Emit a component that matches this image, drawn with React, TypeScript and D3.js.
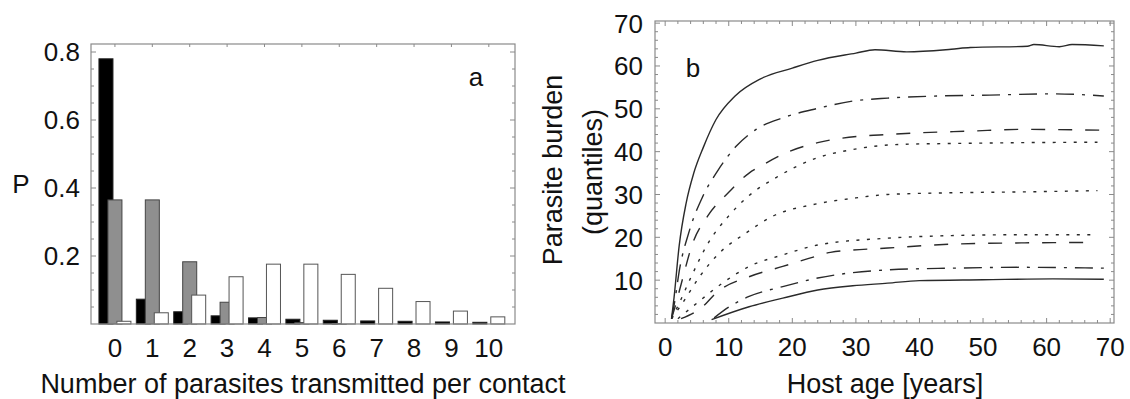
import React from 'react';
import * as d3 from 'd3';

// Panel a: probability of transmitting k parasites per contact
const categories = [0, 1, 2, 3, 4, 5, 6, 7, 8, 9, 10];
const pBlack = [0.78, 0.073, 0.036, 0.024, 0.018, 0.014, 0.011, 0.009, 0.008, 0.006, 0.005];
const pGray = [0.365, 0.365, 0.183, 0.064, 0.019, 0.004, 0.001, 0, 0, 0, 0];
const pWhite = [0.008, 0.033, 0.085, 0.139, 0.176, 0.176, 0.146, 0.105, 0.066, 0.038, 0.021];
const yTicksA = [0.2, 0.4, 0.6, 0.8];

// Panel b: parasite burden quantiles by host age
const q1Age = [1, 1.4, 2.2, 3.3, 4.5, 6, 8, 11, 15, 20, 24, 30, 33, 38, 45, 48, 57, 58, 62, 64, 69];
const q1Val = [1, 6, 18, 28, 35, 41, 47.5, 53, 57, 59.5, 61.3, 63, 63.8, 63.3, 63.9, 64.3, 64.6, 65, 64.5, 65, 64.7];
const q2Age = [1, 1.5, 2.2, 3.8, 5.9, 8.2, 11.2, 14.3, 18.5, 24, 29.5, 35, 43, 51, 61, 69];
const q2Val = [1, 5, 12, 21.5, 29.5, 35.4, 41.3, 45.2, 47.9, 50.1, 51.8, 52.5, 53, 53.2, 53.5, 53];
const q3Age = [1, 1.6, 2.5, 4.3, 6.7, 10, 13.2, 15, 19.6, 24, 30.6, 35, 40, 48, 56, 69];
const q3Val = [1, 4, 9, 18.5, 25, 30.5, 35, 36.6, 40.1, 42.1, 43.6, 44, 44.4, 44.8, 45.2, 45];
const q4Age = [1, 2.2, 4, 6.9, 10, 13, 17.5, 23.8, 29.5, 37, 45, 56, 68];
const q4Val = [1, 4.6, 10.5, 19, 25, 29.5, 34, 38.5, 40.5, 41.7, 41.9, 42.1, 42.2];
const q5Age = [1, 2.7, 5.4, 8.5, 12.7, 16.9, 23.8, 30, 35, 45, 56, 68];
const q5Val = [1, 4.6, 10.8, 16.3, 21, 24.9, 27.8, 29.2, 30, 30.4, 30.6, 30.9];
const q6Age = [2, 4.3, 9, 13.2, 18.5, 24, 35, 45, 56, 68];
const q6Val = [1, 3.8, 9.3, 13.2, 15.9, 18.2, 19.8, 20.4, 20.6, 20.6];
const q7Age = [2.5, 5.9, 8, 13.2, 18.5, 23.8, 26, 35, 45, 56, 67.4];
const q7Val = [1, 3.8, 7, 10.8, 13.2, 15.6, 16.5, 17.5, 18.4, 18.7, 18.8];
const q8Age = [7.7, 10.1, 13.2, 18.5, 24, 35, 45, 56, 69];
const q8Val = [1.2, 3.8, 6.2, 8.5, 10.5, 12.4, 12.8, 13, 12.8];
const q9Age = [7.3, 13.2, 18.5, 24, 29.5, 35, 40, 50, 61, 69];
const q9Val = [0.8, 3.8, 5.8, 7.7, 8.7, 9.3, 9.9, 10.1, 10.3, 10.2];
const xTicksB = [0, 10, 20, 30, 40, 50, 60, 70];
const yTicksB = [10, 20, 30, 40, 50, 60, 70];

const FONT = "'Liberation Sans', Arial, sans-serif";
const FRAME = '#8a8a8a';
const INK = '#2a2a2a';
const TICK_FS = 26;

const DASH_DOT = '18,8,3,8';
const DASHED = '14,13';
const DOTTED = '3,7.5';

export default function App() {
  // ---- panel a geometry ----
  const aL = 91, aR = 515, aT = 44, aB = 324;
  const xa = d3.scaleLinear().domain([-0.64, 10.7]).range([aL, aR]);
  const ya = d3.scaleLinear().domain([0, 0.8]).range([aB, 52]);
  const barW = xa(0.375) - xa(0);
  const off = 0.24;

  const bars = (vals: number[], dx: number, fill: string, stroke: string) =>
    categories.map((c, i) => {
      const v = vals[i];
      if (v <= 0) return null;
      const x = xa(c + dx) - barW / 2;
      const y = ya(v);
      return (
        <rect key={`${fill}-${c}`} x={x} y={y} width={barW} height={Math.max(aB - y, 0.5)}
          fill={fill} stroke={stroke} strokeWidth={1} />
      );
    });

  const minorA = d3.range(0.05, 0.81, 0.05);

  // ---- panel b geometry ----
  const bL = 655, bR = 1114, bT = 21, bB = 323;
  const xb = d3.scaleLinear().domain([-1.6, 70.6]).range([bL, bR]);
  const yb = d3.scaleLinear().domain([0, 70.5]).range([bB, bT]);
  const line = d3.line<[number, number]>()
    .x(d => xb(d[0]))
    .y(d => yb(d[1]))
    .curve(d3.curveMonotoneX);
  const series: { age: number[]; val: number[]; dash?: string }[] = [
    { age: q1Age, val: q1Val },
    { age: q2Age, val: q2Val, dash: DASH_DOT },
    { age: q3Age, val: q3Val, dash: DASHED },
    { age: q4Age, val: q4Val, dash: DOTTED },
    { age: q5Age, val: q5Val, dash: DOTTED },
    { age: q6Age, val: q6Val, dash: DOTTED },
    { age: q7Age, val: q7Val, dash: DASHED },
    { age: q8Age, val: q8Val, dash: DASH_DOT },
    { age: q9Age, val: q9Val },
  ];
  const minorXB = d3.range(0, 71, 2);
  const minorYB = d3.range(2, 71, 2);

  return (
    <svg width={1130} height={399} style={{ position: 'absolute', left: 0, top: 0, background: '#fff' }}
      fontFamily={FONT}>
      <rect x={0} y={0} width={1130} height={399} fill="#fff" />

      {/* ---------- panel a ---------- */}
      <g>
        {bars(pBlack, -off, '#000', '#222')}
        {bars(pGray, 0, '#8f8f8f', '#444')}
        {bars(pWhite, off, '#fff', '#555')}
        <rect x={aL} y={aT} width={aR - aL} height={aB - aT} fill="none" stroke={FRAME} strokeWidth={1.2} />
        {minorA.map(v => {
          const major = Math.abs(v * 5 - Math.round(v * 5)) < 1e-6;
          const len = major ? 5 : 3;
          return (
            <g key={`ta${v}`} stroke={FRAME} strokeWidth={1}>
              <line x1={aL} x2={aL + len} y1={ya(v)} y2={ya(v)} />
              <line x1={aR} x2={aR - len} y1={ya(v)} y2={ya(v)} />
            </g>
          );
        })}
        {categories.map(c => (
          <line key={`tt${c}`} x1={xa(c)} x2={xa(c)} y1={aT} y2={aT + 3} stroke={FRAME} strokeWidth={1} />
        ))}
        {yTicksA.map(v => (
          <text key={`ya${v}`} x={80} y={ya(v)} dy="0.36em" textAnchor="end" fontSize={TICK_FS} fill="#111">
            {v.toFixed(1)}
          </text>
        ))}
        {categories.map(c => (
          <text key={`xa${c}`} x={xa(c)} y={348} dy="0.36em" textAnchor="middle" fontSize={TICK_FS} fill="#111">
            {c}
          </text>
        ))}
        <text x={21} y={184} dy="0.36em" textAnchor="middle" fontSize={26} fill="#111">P</text>
        <text x={476} y={77} dy="0.36em" textAnchor="middle" fontSize={26} fill="#111">a</text>
        <text x={303} y={383} dy="0.36em" textAnchor="middle" fontSize={27} fill="#111">
          Number of parasites transmitted per contact
        </text>
      </g>

      {/* ---------- panel b ---------- */}
      <g>
        {series.map((s, i) => (
          <path key={`q${i}`} d={line(s.age.map((a, j) => [a, s.val[j]] as [number, number])) || ''}
            fill="none" stroke={INK} strokeWidth={1.4} strokeDasharray={s.dash} />
        ))}
        <rect x={bL} y={bT} width={bR - bL} height={bB - bT} fill="none" stroke={FRAME} strokeWidth={1.2} />
        {minorXB.map(v => {
          const len = v % 10 === 0 ? 5 : 3;
          return (
            <g key={`tbx${v}`} stroke={FRAME} strokeWidth={1}>
              <line x1={xb(v)} x2={xb(v)} y1={bB} y2={bB - len} />
              <line x1={xb(v)} x2={xb(v)} y1={bT} y2={bT + len} />
            </g>
          );
        })}
        {minorYB.map(v => {
          const len = v % 10 === 0 ? 5 : 3;
          return (
            <g key={`tby${v}`} stroke={FRAME} strokeWidth={1}>
              <line x1={bL} x2={bL + len} y1={yb(v)} y2={yb(v)} />
              <line x1={bR} x2={bR - len} y1={yb(v)} y2={yb(v)} />
            </g>
          );
        })}
        {yTicksB.map(v => (
          <text key={`yb${v}`} x={643} y={yb(v)} dy="0.36em" textAnchor="end" fontSize={TICK_FS} fill="#111">
            {v}
          </text>
        ))}
        {xTicksB.map(v => (
          <text key={`xb${v}`} x={xb(v)} y={347} dy="0.36em" textAnchor="middle" fontSize={TICK_FS} fill="#111">
            {v}
          </text>
        ))}
        <text x={693} y={68} dy="0.36em" textAnchor="middle" fontSize={26} fill="#111">b</text>
        <text x={885} y={383} dy="0.36em" textAnchor="middle" fontSize={27} fill="#111">Host age [years]</text>
        <text transform="translate(552,170) rotate(-90)" dy="0.36em" textAnchor="middle" fontSize={27} fill="#111">
          Parasite burden
        </text>
        <text transform="translate(592,172) rotate(-90)" dy="0.36em" textAnchor="middle" fontSize={27} fill="#111">
          (quantiles)
        </text>
      </g>
    </svg>
  );
}
